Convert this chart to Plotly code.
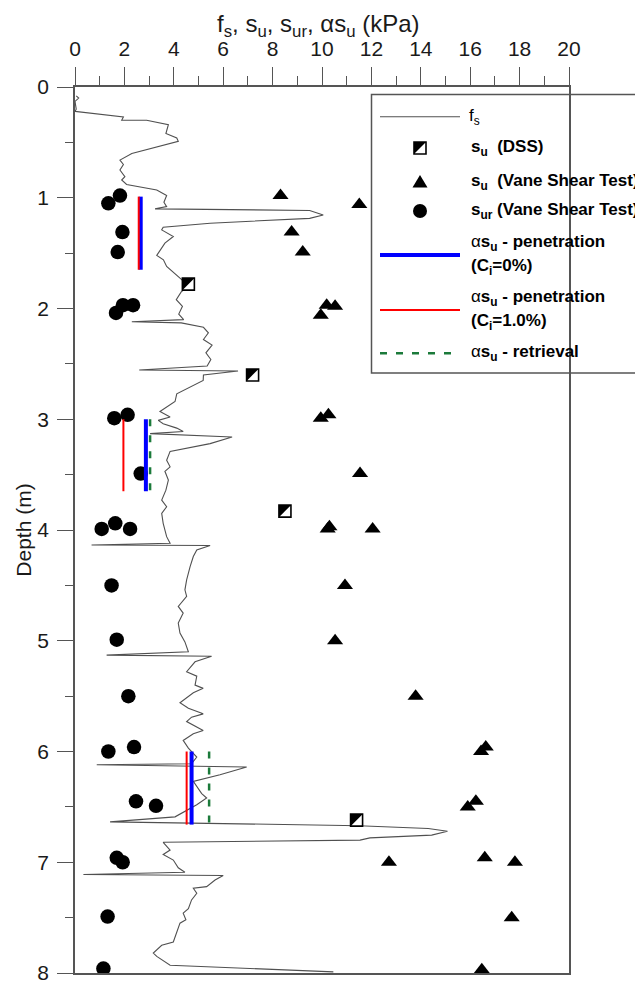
import plotly.graph_objects as go

# ---------------- data ----------------
fs_kpa = [0.05, 0.15, 0.00, 0.05, 0.00, 1.96, 1.89, 2.90, 3.78, 3.68, 4.12, 4.18, 2.30, 1.82, 1.96, 1.82,
          2.02, 1.89, 2.09, 2.63, 3.31, 3.71, 3.60, 3.71, 3.24, 9.50, 10.05, 9.50, 6.28, 5.47, 3.57,
          3.51, 3.98, 3.64, 3.31, 3.58, 3.71, 3.98, 4.32, 4.59,
          4.30, 4.10, 4.35, 4.20, 4.40, 2.30, 4.30, 5.20, 5.40, 5.20, 5.55, 5.30, 5.50, 5.35, 2.60, 6.60,
          5.20, 5.19,
          4.12, 4.05, 3.44, 3.85, 3.37, 3.57, 4.12, 4.38, 3.04, 6.36, 5.47, 3.85, 3.71, 3.85, 3.64, 3.78,
          3.68, 3.51, 3.71, 3.51, 3.57, 3.71, 3.85, 0.67, 5.47, 4.93, 4.79, 4.66, 4.52,
          4.45, 4.52, 4.18, 4.38, 4.18, 4.25, 4.45, 4.59, 1.28, 5.53, 4.86, 4.52, 4.93, 4.86, 5.19, 4.79,
          4.25, 4.59, 5.19, 4.72, 4.52, 5.19, 4.79, 4.38, 4.59, 4.93, 4.72, 0.88, 6.95, 5.87, 4.79, 5.13,
          5.33, 4.93, 4.05, 1.42, 11.50, 14.30, 15.08, 14.44, 11.94, 11.54, 3.57, 3.85, 3.57, 3.98, 4.18,
          4.45, 0.34, 6.00, 5.67, 5.33, 4.79, 4.93, 4.72, 4.59, 4.38, 4.49, 4.25, 4.12, 3.98, 3.51, 3.17,
          3.31, 3.85, 10.46]
fs_depth = [0.08, 0.10, 0.13, 0.20, 0.22, 0.27, 0.30, 0.30, 0.34, 0.42, 0.46, 0.49, 0.60, 0.66, 0.70, 0.75,
            0.81, 0.84, 0.88, 0.90, 0.93, 0.98, 1.04, 1.08, 1.10, 1.115, 1.156, 1.186, 1.216, 1.23, 1.267,
            1.29, 1.35, 1.41, 1.52, 1.56, 1.62, 1.67, 1.74, 1.80,
            1.85, 1.92, 1.98, 2.05, 2.10, 2.12, 2.13, 2.17, 2.22, 2.28, 2.33, 2.40, 2.46, 2.52, 2.555, 2.565,
            2.60, 2.65,
            2.77, 2.84, 2.93, 2.98, 3.01, 3.04, 3.08, 3.11, 3.13, 3.16, 3.22, 3.29, 3.37, 3.43, 3.47, 3.55,
            3.64, 3.73, 3.79, 3.85, 3.94, 4.06, 4.12, 4.135, 4.14, 4.18, 4.24, 4.33, 4.45,
            4.54, 4.60, 4.69, 4.75, 4.84, 4.93, 5.01, 5.10, 5.13, 5.14, 5.19, 5.28, 5.32, 5.40, 5.43, 5.47,
            5.56, 5.61, 5.66, 5.69, 5.73, 5.81, 5.84, 5.90, 5.97, 6.05, 6.11, 6.12, 6.14, 6.21, 6.27, 6.38,
            6.42, 6.48, 6.59, 6.635, 6.67, 6.695, 6.72, 6.755, 6.78, 6.80, 6.82, 6.89, 6.93, 6.98, 7.05,
            7.09, 7.11, 7.12, 7.16, 7.22, 7.235, 7.28, 7.34, 7.42, 7.46, 7.52, 7.55, 7.63, 7.72, 7.75, 7.82,
            7.85, 7.93, 7.99]

dss_su = [4.59, 7.19, 8.50, 11.40]
dss_depth = [1.78, 2.60, 3.83, 6.62]

vst_su = [8.32, 11.51, 8.77, 9.22, 10.19, 10.53, 9.95, 10.26, 9.95, 11.54, 10.30, 10.23, 12.05,
          10.93, 10.53, 13.79, 16.63, 16.44, 16.23, 15.90, 12.71, 16.59, 17.81, 17.68, 16.47]
vst_depth = [0.98, 1.06, 1.31, 1.49, 1.97, 1.98, 2.06, 2.96, 2.99, 3.49, 3.97, 3.99, 3.99,
             4.50, 5.00, 5.50, 5.96, 6.00, 6.45, 6.50, 7.00, 6.96, 7.00, 7.50, 7.97]

vst_sur = [1.35, 1.82, 1.92, 1.73, 1.94, 2.35, 1.66, 1.59, 2.13, 2.66, 1.08, 1.63, 2.23, 1.48,
           1.69, 2.16, 1.35, 2.39, 2.47, 3.28, 1.69, 1.93, 1.32, 1.15]
vst_sur_depth = [1.05, 0.98, 1.31, 1.49, 1.97, 1.97, 2.04, 2.99, 2.96, 3.49, 3.99, 3.94, 3.99, 4.50,
                 4.99, 5.50, 6.00, 5.96, 6.45, 6.49, 6.96, 7.00, 7.49, 7.96]

pen_top = [0.99, 3.00, 6.00]
pen_bot = [1.65, 3.65, 6.66]
alpha_ci0 = [2.66, 2.87, 4.72]
alpha_ci1 = [2.58, 1.96, 4.52]
ret_top = [3.00, 6.00]
ret_bot = [3.65, 6.66]
alpha_ret = [3.04, 5.43]

x_ticks = list(range(0, 21, 2))
y_ticks = list(range(0, 9))

# ---------------- layout helpers (window pixels; page body has an 8px margin) ----------------
OFF = 8
L, R, T, B = 75, 569, 87, 973          # plot area in window pixels
W, H = 643, 983


def fx(px):
    return (px - L) / (R - L)


def fy(py):
    return (B - py) / (B - T)


def segments(xs, tops, bots):
    X, Y = [], []
    for x, t, b in zip(xs, tops, bots):
        X += [x, x, None]
        Y += [t, b, None]
    return X, Y


AX = '#555555'
FS = '#505050'
BLUE = '#0000ff'
RED = '#ff0000'
GREEN = '#1b7a3a'

fig = go.Figure()

fig.add_trace(go.Scatter(x=fs_kpa, y=fs_depth, mode='lines', name='f<sub>s</sub>',
                         line=dict(color=FS, width=1.1)))

fig.add_trace(go.Scatter(x=dss_su, y=dss_depth, mode='markers', name='s<sub>u</sub> (DSS)',
                         marker=dict(symbol='square', size=12, color='white',
                                     line=dict(color='black', width=1.6))))
fig.add_trace(go.Scatter(x=vst_su, y=vst_depth, mode='markers', name='s<sub>u</sub> (Vane Shear Test)',
                         marker=dict(symbol='triangle-up', size=14, color='black', line=dict(width=0))))
fig.add_trace(go.Scatter(x=vst_sur, y=vst_sur_depth, mode='markers', name='s<sub>ur</sub> (Vane Shear Test)',
                         marker=dict(symbol='circle', size=14.5, color='black', line=dict(width=0))))

xr, yr = segments(alpha_ret, ret_top, ret_bot)
fig.add_trace(go.Scatter(x=xr, y=yr, mode='lines', name='αs<sub>u</sub> - retrieval',
                         line=dict(color=GREEN, width=2.5, dash='7px,9px')))
x0, y0 = segments(alpha_ci0, pen_top, pen_bot)
fig.add_trace(go.Scatter(x=x0, y=y0, mode='lines', name='αs<sub>u</sub> - penetration (C<sub>i</sub>=0%)',
                         line=dict(color=BLUE, width=4)))
x1, y1 = segments(alpha_ci1, pen_top, pen_bot)
fig.add_trace(go.Scatter(x=x1, y=y1, mode='lines', name='αs<sub>u</sub> - penetration (C<sub>i</sub>=1.0%)',
                         line=dict(color=RED, width=2)))

shapes = []
# half-filled DSS squares (black upper-left half), anchored at the data points
for sx, sy in zip(dss_su, dss_depth):
    shapes.append(dict(type='path', xref='x', yref='y', xsizemode='pixel', ysizemode='pixel',
                       xanchor=sx, yanchor=sy, path='M -6,6 L 6,6 L -6,-6 Z',
                       fillcolor='black', line=dict(width=0)))

# ---------------- manual legend ----------------
shapes.append(dict(type='rect', xref='paper', yref='paper', x0=fx(371.5), x1=fx(700),
                   y0=fy(373), y1=fy(94.5), line=dict(color=AX, width=1.5), fillcolor='rgba(0,0,0,0)'))


def hline(py, color, width, dash=None):
    d = dict(type='line', xref='paper', yref='paper', x0=fx(380), x1=fx(460), y0=fy(py), y1=fy(py),
             line=dict(color=color, width=width))
    if dash:
        d['line']['dash'] = dash
    return d


shapes.append(hline(116.7, FS, 1.1))
# DSS sample
shapes.append(dict(type='rect', xref='paper', yref='paper', x0=fx(414), x1=fx(426), y0=fy(154), y1=fy(142),
                   fillcolor='white', line=dict(color='black', width=1.6)))
shapes.append(dict(type='path', xref='paper', yref='paper',
                   path=f'M {fx(414)},{fy(142)} L {fx(426)},{fy(142)} L {fx(414)},{fy(154)} Z',
                   fillcolor='black', line=dict(width=0)))
# triangle sample
shapes.append(dict(type='path', xref='paper', yref='paper',
                   path=f'M {fx(412.5)},{fy(187.5)} L {fx(427.5)},{fy(187.5)} L {fx(420)},{fy(175)} Z',
                   fillcolor='black', line=dict(width=0)))
# circle sample
shapes.append(dict(type='circle', xref='paper', yref='paper', x0=fx(413), x1=fx(427), y0=fy(218), y1=fy(204),
                   fillcolor='black', line=dict(width=0)))
shapes.append(hline(255, BLUE, 4))
shapes.append(hline(310, RED, 2))
shapes.append(hline(353.3, GREEN, 2.5, '7px,9px'))

LF = dict(family='Liberation Sans, Arial, sans-serif', size=17, color='black')
legend_text = [
    (466.5, 116.7, 'f<sub>s</sub>'),
    (469, 148.3, '<b>s<sub>u</sub>  (DSS)</b>'),
    (469, 181.7, '<b>s<sub>u</sub>  (Vane Shear Test)</b>'),
    (469, 211.0, '<b>s<sub>ur</sub> (Vane Shear Test)</b>'),
    (469, 243.3, 'α<b>s<sub>u</sub> - penetration</b>'),
    (469, 266.7, '<b>(C<sub>i</sub>=0%)</b>'),
    (469, 298.3, 'α<b>s<sub>u</sub> - penetration</b>'),
    (469, 321.7, '<b>(C<sub>i</sub>=1.0%)</b>'),
    (469, 353.3, 'α<b>s<sub>u</sub> - retrieval</b>'),
]
annotations = []
for px, py, txt in legend_text:
    annotations.append(dict(xref='paper', yref='paper', x=fx(px), y=fy(py), text=txt, showarrow=False,
                            xanchor='left', yanchor='middle', font=LF))

# x-axis title placed above the tick labels
annotations.append(dict(xref='paper', yref='paper', x=fx(318), y=fy(8.5),
                        text='f<sub>s</sub>, s<sub>u</sub>, s<sub>ur</sub>, αs<sub>u</sub> (kPa)',
                        showarrow=False, xanchor='center', yanchor='top',
                        font=dict(family='Liberation Sans, Arial, sans-serif', size=24, color='#1a1a1a')))

fig.update_layout(
    width=W, height=H,
    margin=dict(l=L - OFF, r=W - (R - OFF), t=T - OFF, b=H - (B - OFF), autoexpand=False),
    plot_bgcolor='white', paper_bgcolor='white',
    showlegend=False,
    font=dict(family='Liberation Sans, Arial, sans-serif', color='#1a1a1a'),
    shapes=shapes, annotations=annotations,
    xaxis=dict(side='top', range=[0, 20], tickvals=x_ticks, ticks='outside', ticklen=18, tickwidth=1.2,
               tickcolor=AX, showline=True, linecolor=AX, linewidth=1.5, mirror=True, automargin=False,
               showgrid=False, zeroline=False, tickfont=dict(size=21), ticklabelstandoff=3,
               minor=dict(dtick=1, ticks='outside', ticklen=9, tickcolor=AX, tickwidth=1.2)),
    yaxis=dict(range=[8, 0], tickvals=y_ticks, ticks='outside', ticklen=16, tickwidth=1.2,
               tickcolor=AX, showline=True, linecolor=AX, linewidth=1.5, mirror=True, automargin=False,
               showgrid=False, zeroline=False, tickfont=dict(size=21), ticklabelstandoff=4,
               minor=dict(dtick=0.5, ticks='outside', ticklen=8, tickcolor=AX, tickwidth=1.2),
               title=dict(text='Depth (m)', font=dict(size=21), standoff=0)),
)

fig.write_html('out.html')
